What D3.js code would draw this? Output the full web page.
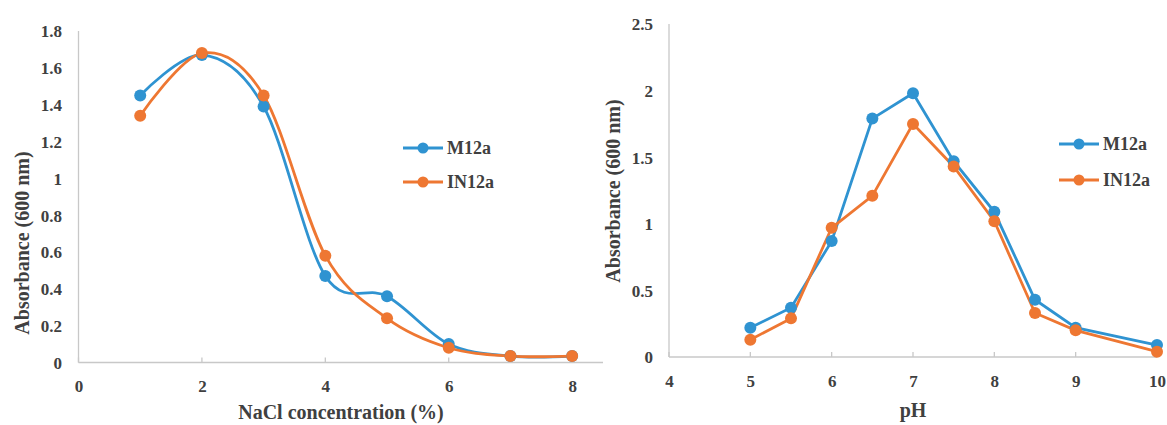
<!DOCTYPE html>
<html>
<head>
<meta charset="utf-8">
<script src="https://cdn.jsdelivr.net/npm/d3@7"></script>
<style>
  html, body { margin: 0; padding: 0; background: #fff; }
  svg { display: block; }
  svg text { font-family: "Liberation Serif", "Times New Roman", Times, "DejaVu Serif", serif !important; font-weight: bold; fill: #404040; }
</style>
</head>
<body>
<svg id="chart" width="1167" height="425"></svg>
<script>
// ---- Data: left panel (NaCl) ----
const naclConc = [1, 2, 3, 4, 5, 6, 7, 8];
const naclM12a = [1.45, 1.67, 1.39, 0.47, 0.36, 0.10, 0.035, 0.035];
const naclIN12a = [1.34, 1.68, 1.45, 0.58, 0.24, 0.08, 0.035, 0.035];
const naclXTicks = [0, 2, 4, 6, 8];
const naclYTicks = [0, 0.2, 0.4, 0.6, 0.8, 1, 1.2, 1.4, 1.6, 1.8];

// ---- Data: right panel (pH) ----
const phValues = [5, 5.5, 6, 6.5, 7, 7.5, 8, 8.5, 9, 10];
const phM12a = [0.22, 0.37, 0.87, 1.79, 1.98, 1.47, 1.09, 0.43, 0.22, 0.09];
const phIN12a = [0.13, 0.29, 0.97, 1.21, 1.75, 1.43, 1.02, 0.33, 0.20, 0.04];
const phXTicks = [4, 5, 6, 7, 8, 9, 10];
const phYTicks = [0, 0.5, 1, 1.5, 2, 2.5];

const seriesNames = ["M12a", "IN12a"];
const colors = ["#2f93d1", "#ee7732"];
const FONT = '"Liberation Serif", "Times New Roman", Times, "DejaVu Serif", serif';

const svg = d3.select("#chart");

function panel(opts) {
  const g = svg.append("g");
  const x = d3.scaleLinear().domain(opts.xDomain).range(opts.xRange);
  const y = d3.scaleLinear().domain(opts.yDomain).range(opts.yRange);
  const fmt = d => String(+d.toFixed(2));

  // axis lines
  g.append("line").attr("x1", x(opts.xDomain[0])).attr("x2", x(opts.xDomain[1]))
    .attr("y1", y(0)).attr("y2", y(0)).attr("stroke", "#c8c8c8").attr("stroke-width", 1.3);
  g.append("line").attr("x1", x(opts.xDomain[0])).attr("x2", x(opts.xDomain[0]))
    .attr("y1", y(0)).attr("y2", y(opts.yDomain[1])).attr("stroke", "#c8c8c8").attr("stroke-width", 1.3);

  // x ticks (upward) + labels
  opts.xTicks.forEach(t => {
    g.append("line").attr("x1", x(t)).attr("x2", x(t)).attr("y1", y(0)).attr("y2", y(0) - 5)
      .attr("stroke", "#c8c8c8").attr("stroke-width", 1.3);
  });
  const xa = d3.axisBottom(x).tickValues(opts.xTicks).tickSize(0).tickPadding(0).tickFormat(fmt);
  const xg = g.append("g").attr("transform", `translate(0,${y(0)})`).call(xa)
    .attr("font-family", FONT).attr("font-size", 17);
  xg.select(".domain").remove();
  xg.selectAll("text").attr("y", opts.xLabelDy).attr("dy", 0).attr("fill", "#404040");

  const ya = d3.axisLeft(y).tickValues(opts.yTicks).tickSize(0).tickPadding(0).tickFormat(fmt);
  const yg = g.append("g").attr("transform", `translate(${opts.yLabelX},0)`).call(ya)
    .attr("font-family", FONT).attr("font-size", 17);
  yg.select(".domain").remove();
  yg.selectAll("text").attr("x", 0).attr("dy", "0.35em").attr("fill", "#404040");

  // series
  opts.series.forEach((s, i) => {
    const pts = opts.xs.map((xv, j) => [xv, s[j]]);
    const line = d3.line().x(d => x(d[0])).y(d => y(d[1])).curve(opts.curve);
    g.append("path").datum(pts).attr("d", line).attr("fill", "none")
      .attr("stroke", colors[i]).attr("stroke-width", 2.8);
  });
  opts.series.forEach((s, i) => {
    g.selectAll(null).data(opts.xs.map((xv, j) => [xv, s[j]])).enter().append("circle")
      .attr("cx", d => x(d[0])).attr("cy", d => y(d[1])).attr("r", 6).attr("fill", colors[i]);
  });

  // legend
  seriesNames.forEach((n, i) => {
    const ly = opts.legY + i * opts.legGap;
    g.append("line").attr("x1", opts.legX).attr("x2", opts.legX + 40).attr("y1", ly).attr("y2", ly)
      .attr("stroke", colors[i]).attr("stroke-width", 2.8);
    g.append("circle").attr("cx", opts.legX + 20).attr("cy", ly).attr("r", 5.5).attr("fill", colors[i]);
    g.append("text").attr("x", opts.legX + 44).attr("y", ly).attr("dy", "0.35em")
      .attr("font-family", FONT).attr("font-size", 18).text(n);
  });

  // axis titles
  g.append("text").attr("x", opts.xTitleX).attr("y", opts.xTitleY).attr("text-anchor", "middle")
    .attr("font-family", FONT).attr("font-size", 20).text(opts.xTitle);
  g.append("text").attr("transform", `translate(${opts.yTitleX},${opts.yTitleY}) rotate(-90)`)
    .attr("text-anchor", "middle").attr("font-family", FONT).attr("font-size", 20).text(opts.yTitle);
}

panel({
  xDomain: [0, 8.5], xRange: [78.5, 603],
  yDomain: [0, 1.8], yRange: [362.5, 31],
  xTicks: naclXTicks, yTicks: naclYTicks,
  xLabelDy: 29, yLabelX: 62,
  xs: naclConc, series: [naclM12a, naclIN12a],
  curve: d3.curveCardinal.tension(0),
  legX: 403, legY: 148, legGap: 34,
  xTitle: "NaCl concentration (%)", xTitleX: 341, xTitleY: 419,
  yTitle: "Absorbance (600 nm)", yTitleX: 29, yTitleY: 243
});

panel({
  xDomain: [4, 10], xRange: [669, 1157],
  yDomain: [0, 2.5], yRange: [357, 24],
  xTicks: phXTicks, yTicks: phYTicks,
  xLabelDy: 30, yLabelX: 653,
  xs: phValues, series: [phM12a, phIN12a],
  curve: d3.curveLinear,
  legX: 1059, legY: 144, legGap: 36,
  xTitle: "pH", xTitleX: 913, xTitleY: 417,
  yTitle: "Absorbance (600 nm)", yTitleX: 620, yTitleY: 191
});
</script>
</body>
</html>
